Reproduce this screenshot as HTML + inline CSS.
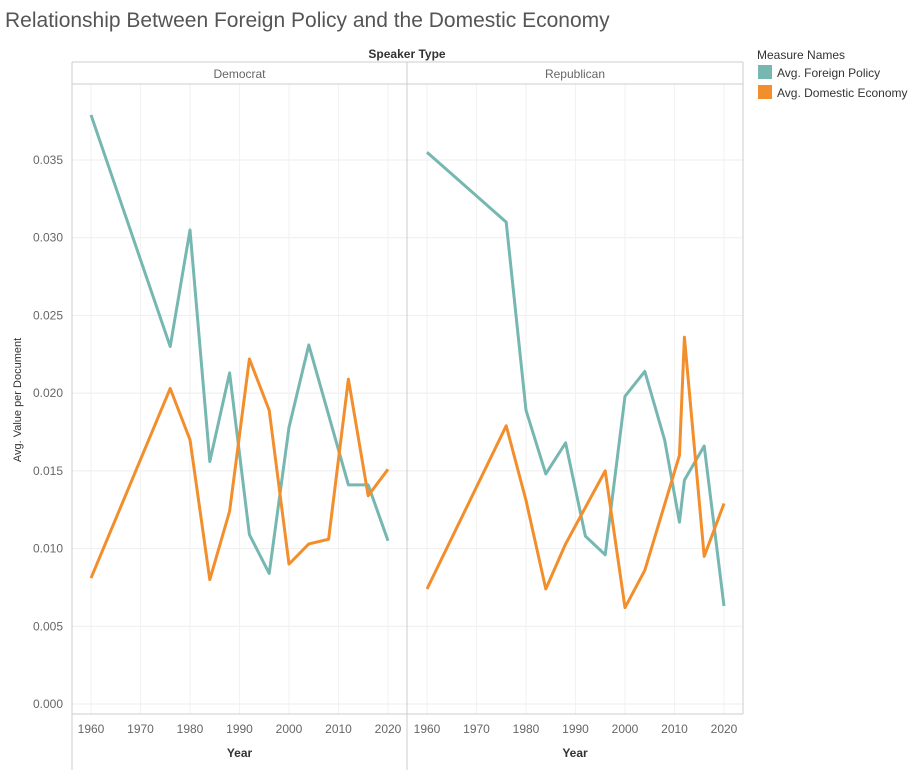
<!DOCTYPE html>
<html><head><meta charset="utf-8"><style>
body{margin:0;background:#fff;font-family:"Liberation Sans",sans-serif}
svg text{font-family:"Liberation Sans",sans-serif}
</style></head><body>
<svg id="c" width="916" height="770">
<text x="5" y="27" font-size="21" fill="#555">Relationship Between Foreign Policy and the Domestic Economy</text>
<text x="407" y="58" font-size="12" fill="#333" text-anchor="middle" font-weight="bold">Speaker Type</text>
<text x="757" y="59" font-size="12" fill="#333">Measure Names</text>
<g><rect x="758" y="65" width="14" height="14" fill="#76b7b2"/><text x="777" y="77" font-size="12" fill="#333">Avg. Foreign Policy</text></g>
<g><rect x="758" y="85" width="14" height="14" fill="#f28e2b"/><text x="777" y="97" font-size="12" fill="#333">Avg. Domestic Economy</text></g>
<text transform="translate(21,400) rotate(-90)" font-size="11" fill="#333" text-anchor="middle">Avg. Value per Document</text>
<g id="plot"></g>
</svg>
<script>
const yTicks=[0,0.005,0.01,0.015,0.02,0.025,0.03,0.035];
const xTicks=[1960,1970,1980,1990,2000,2010,2020];
const panels=["Democrat","Republican"];
const demYears=[1960,1976,1980,1984,1988,1992,1996,2000,2004,2012,2016,2020];
const demForeign=[0.0379,0.0230,0.0305,0.0156,0.0213,0.0109,0.0084,0.0178,0.0231,0.0141,0.0141,0.0105];
const demDomYears=[1960,1976,1980,1984,1988,1992,1996,2000,2004,2008,2012,2016,2020];
const demDomestic=[0.0081,0.0203,0.0170,0.0080,0.0124,0.0222,0.0189,0.0090,0.0103,0.0106,0.0209,0.0134,0.0151];
const repYears=[1960,1976,1980,1984,1988,1992,1996,2000,2004,2008,2011,2012,2016,2020];
const repForeign=[0.0355,0.0310,0.0189,0.0148,0.0168,0.0108,0.0096,0.0198,0.0214,0.0170,0.0117,0.0144,0.0166,0.0063];
const repDomYears=[1960,1976,1980,1984,1988,1996,2000,2004,2011,2012,2016,2020];
const repDomestic=[0.0074,0.0179,0.0131,0.0074,0.0103,0.0150,0.0062,0.0086,0.0160,0.0236,0.0095,0.0129];
const NS="http://www.w3.org/2000/svg";
const g=document.getElementById('plot');
function el(t,a,p){const e=document.createElementNS(NS,t);for(const k in a)e.setAttribute(k,a[k]);(p||g).appendChild(e);return e;}
const plotTop=84,plotBot=714;
const y=v=>704-v*(544/0.035);
const px=[{l:72,r:407,x0:91},{l:407,r:743,x0:427}];
const x=(i,yr)=>px[i].x0+(yr-1960)*(297/60);
yTicks.forEach(t=>{
  const l=el('line',{x1:72,x2:743,y1:y(t),y2:y(t),stroke:'#eee'});
  
  
  const tx=el('text',{x:63,y:y(t)+4,'font-size':12,fill:'#666','text-anchor':'end'});
  tx.textContent=t.toFixed(3);
  
  
});
panels.forEach((p,i)=>{
  xTicks.forEach(t=>{
    const l=el('line',{x1:x(i,t),x2:x(i,t),y1:plotTop,y2:plotBot,stroke:'#f2f2f2'});
    
    
    const tx=el('text',{x:x(i,t),y:733,'font-size':12,fill:'#666','text-anchor':'middle'});
    tx.textContent=t;
    
    
  });
  const h=el('text',{x:(px[i].l+px[i].r)/2,y:78,'font-size':12,fill:'#666','text-anchor':'middle'});
  h.textContent=p;
  
  
  const yt=el('text',{x:(px[i].l+px[i].r)/2,y:757,'font-size':12,fill:'#333','text-anchor':'middle','font-weight':'bold'});
  yt.textContent='Year';
  
  
});
[[72,62,743,62],[72,84,743,84],[72,62,72,770],[407,62,407,770],[743,62,743,714],[72,714,743,714]].forEach(a=>{
  const l=el('line',{x1:a[0],y1:a[1],x2:a[2],y2:a[3],stroke:'#ccc'});
  
  
});
function line(i,yrs,vals,col,name){
  const d=yrs.map((yr,k)=>(k?'L':'M')+x(i,yr)+','+y(vals[k])).join('');
  const p=el('path',{d:d,fill:'none',stroke:col,'stroke-width':3,'stroke-linejoin':'round'});
  
  
}
line(0,demYears,demForeign,'#76b7b2','democrat-foreign-line');
line(0,demDomYears,demDomestic,'#f28e2b','democrat-domestic-line');
line(1,repYears,repForeign,'#76b7b2','republican-foreign-line');
line(1,repDomYears,repDomestic,'#f28e2b','republican-domestic-line');
</script>
</body></html>
